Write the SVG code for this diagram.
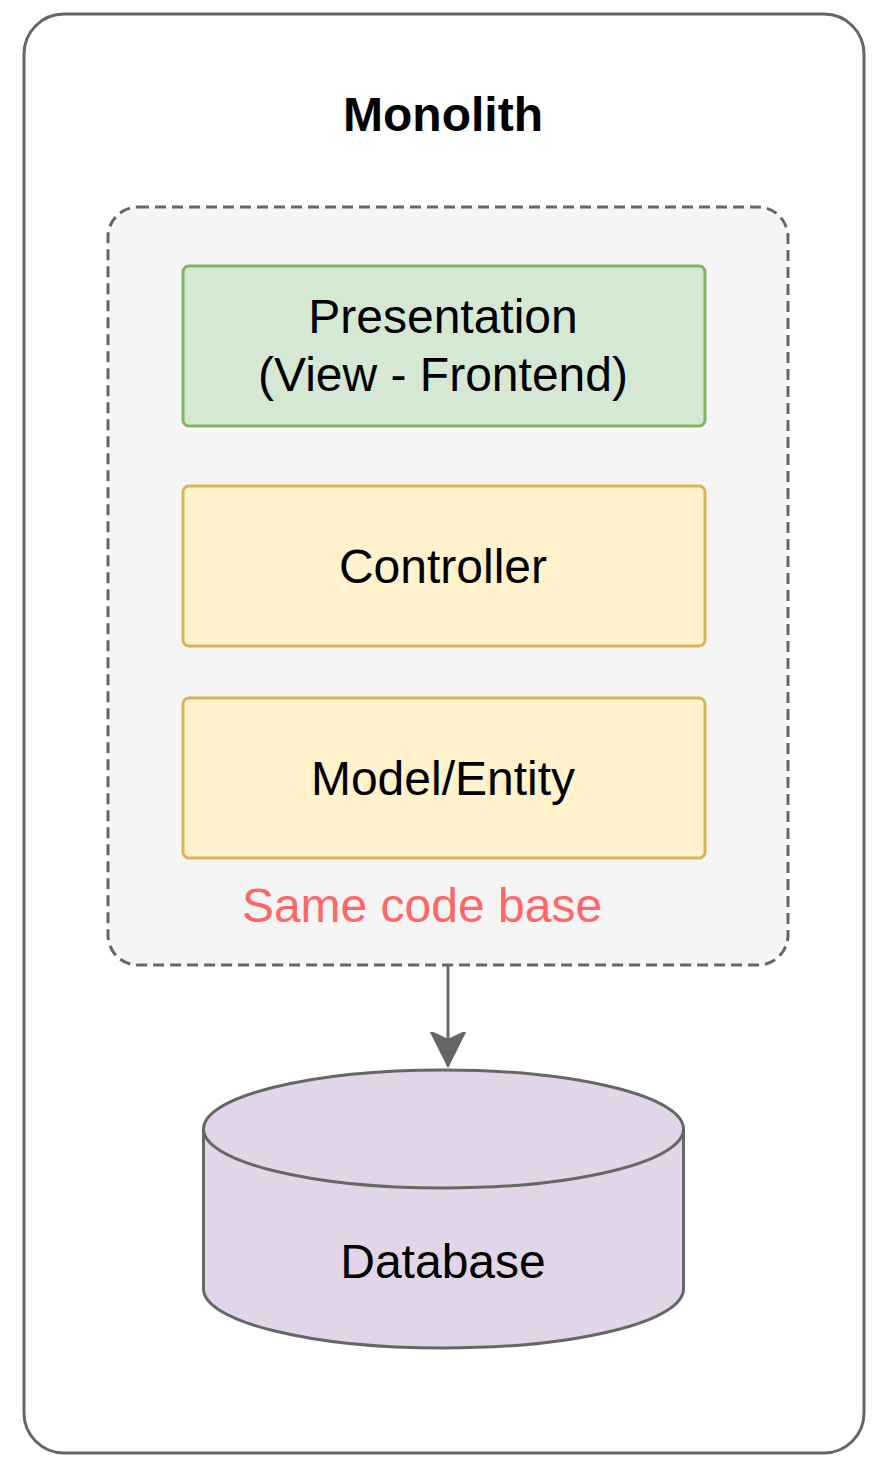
<svg xmlns="http://www.w3.org/2000/svg" width="886" height="1476" viewBox="0 0 886 1476">
<style>
text{font-family:"Liberation Sans",Arial,sans-serif;font-size:48px;text-anchor:middle;fill:#000}
.layer{stroke-width:3}
</style>
<defs>
<marker id="arrow" markerWidth="36" markerHeight="36" refX="34" refY="18" orient="auto" markerUnits="userSpaceOnUse" viewBox="0 0 36 36">
<path d="M34 18 L0 1 L8 18 L0 35 Z" fill="#666666" stroke="#666666" stroke-width="2"/>
</marker>
</defs>
<rect width="886" height="1476" fill="#ffffff"/>
<g id="monolith">
<rect x="24" y="14" width="840" height="1439" rx="40" fill="#ffffff" stroke="#666666" stroke-width="3"/>
<text x="443" y="131" font-weight="bold">Monolith</text>
</g>
<g id="codebase">
<rect x="108" y="207" width="680" height="758" rx="30" fill="#f5f5f5" stroke="#666666" stroke-width="3" stroke-dasharray="11 6"/>
<text x="422" y="922" style="fill:#ff6666">Same code base</text>
</g>
<g id="presentation">
<rect class="layer" x="183" y="266" width="522" height="160" rx="6" fill="#d5e8d4" stroke="#82b366"/>
<text x="443" y="333">Presentation</text>
<text x="443" y="391">(View - Frontend)</text>
</g>
<g id="controller">
<rect class="layer" x="183" y="486" width="522" height="160" rx="6" fill="#fff2cc" stroke="#d6b656"/>
<text x="443" y="583">Controller</text>
</g>
<g id="model">
<rect class="layer" x="183" y="698" width="522" height="160" rx="6" fill="#fff2cc" stroke="#d6b656"/>
<text x="443" y="795">Model/Entity</text>
</g>
<g id="database">
<path d="M203.5 1129 A240 59 0 0 1 683.5 1129 L683.5 1289 A240 59 0 0 1 203.5 1289 Z" fill="#e1d5e7" stroke="#666666" stroke-width="3"/>
<path d="M203.5 1129 A240 59 0 0 0 683.5 1129" fill="none" stroke="#666666" stroke-width="3"/>
<text x="443" y="1278">Database</text>
</g>
<g id="connectors">
<line x1="448" y1="966" x2="448" y2="1066" stroke="#666666" stroke-width="3" marker-end="url(#arrow)"/>
</g>
</svg>
